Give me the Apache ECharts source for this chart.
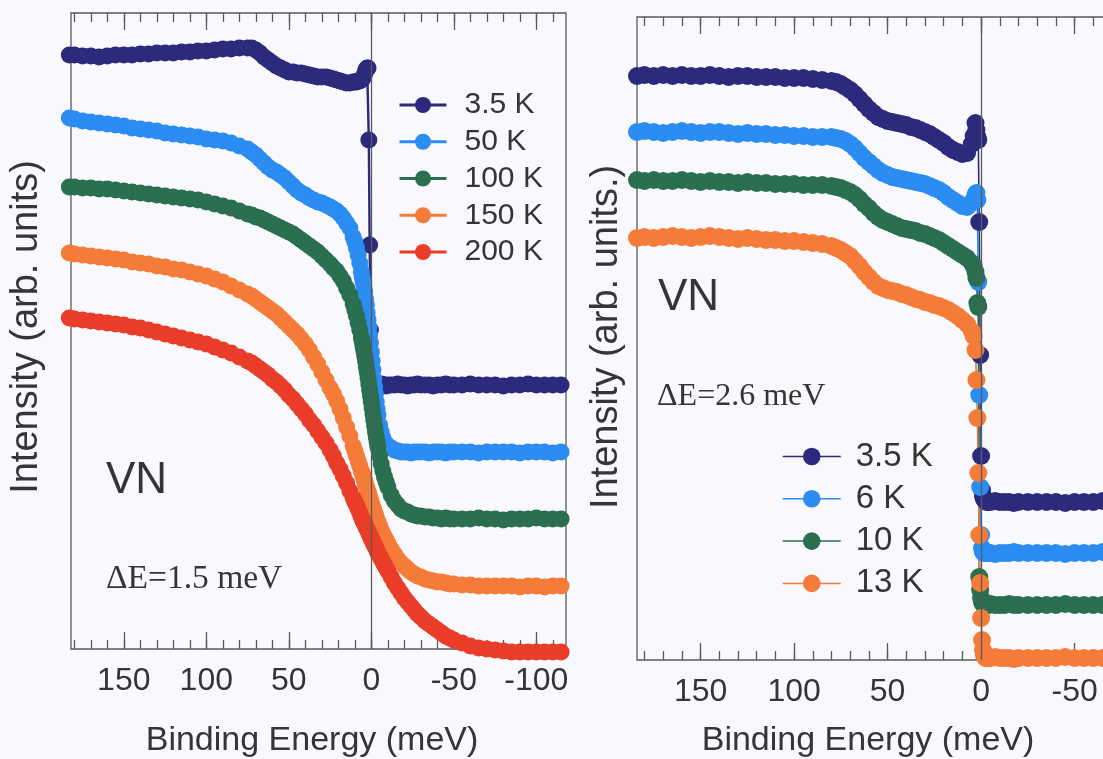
<!DOCTYPE html>
<html>
<head>
<meta charset="utf-8">
<script src="https://cdn.jsdelivr.net/npm/echarts@6/dist/echarts.min.js"></script>
<style>
  html, body { margin: 0; padding: 0; background: #f9f8fd; }
  #chart { width: 1103px; height: 759px; }
</style>
</head>
<body>
<div id="chart"></div>
<script>
// ---- Left panel: temperature dependence (3.5 K – 200 K), ΔE = 1.5 meV ----
const energyLeft = [183,180,175,170,165,160,155,150,145,140,135,130,125,120,115,110,105,100,95,90,85,80,75,
  72.5,70,67.5,65,62.5,60,57.5,55,52.5,50,47.5,45,42.5,40,37.5,35,32.5,30,27.5,25,
  23,21,19,17,15,13,11,
  10,9,8,7,
  6,5.5,5,4.5,4,3.5,3,2.5,2,1.5,1,0.5,0,-0.5,-1,-1.5,-2,-2.5,-3,-3.5,-4,
  -5,-6,-7,-8,-9,-10,
  -12,-14,-16,-18,-20,-22,-24,-26,-28,-30,
  -32.5,-35,-37.5,-40,-42.5,-45,-47.5,-50,
  -55,-60,-65,-70,-75,-80,-85,-90,-95,-100,-105,-110,-115];

const leftNames = ['3.5 K', '50 K', '100 K', '150 K', '200 K'];

const left3p5K = [5.94,5.94,5.93,5.93,5.92,5.93,5.94,5.94,5.94,5.95,5.95,5.96,5.96,5.96,5.97,5.97,5.98,5.98,5.99,6.00,6.00,6.01,6.01,
  6.01,5.99,5.96,5.92,5.89,5.86,5.83,5.81,5.79,5.77,5.77,5.76,5.76,5.75,5.74,5.73,5.72,5.72,5.72,5.71,
  5.70,5.69,5.68,5.67,5.66,5.66,5.67,
  5.67,5.67,5.68,5.68,
  5.69,5.70,5.71,5.73,5.75,5.78,5.80,5.81,5.81,5.09,4.04,3.19,2.80,2.68,2.65,2.64,2.64,2.65,2.64,2.64,2.64,
  2.64,2.65,2.64,2.64,2.63,2.64,
  2.64,2.64,2.65,2.64,2.64,2.63,2.64,2.64,2.65,2.64,
  2.64,2.64,2.63,2.64,2.64,2.65,2.64,2.64,
  2.64,2.65,2.64,2.64,2.64,2.63,2.64,2.64,2.65,2.64,2.64,2.64,2.64];

const left50K = [5.31,5.30,5.28,5.27,5.26,5.25,5.24,5.23,5.21,5.20,5.19,5.18,5.16,5.15,5.14,5.13,5.12,5.10,5.09,5.08,5.06,5.03,5.00,
  4.97,4.94,4.90,4.86,4.82,4.79,4.77,4.74,4.71,4.67,4.63,4.59,4.56,4.54,4.51,4.49,4.47,4.46,4.44,4.42,
  4.40,4.38,4.35,4.31,4.26,4.21,4.12,
  4.07,4.01,3.94,3.86,
  3.77,3.72,3.67,3.62,3.57,3.50,3.44,3.36,3.29,3.22,3.14,3.06,2.97,2.88,2.79,2.70,2.62,2.55,2.47,2.40,2.34,
  2.24,2.17,2.11,2.07,2.05,2.03,
  2.01,1.99,1.98,1.97,1.97,1.97,1.96,1.97,1.97,1.97,
  1.97,1.96,1.97,1.97,1.97,1.96,1.97,1.97,
  1.97,1.97,1.96,1.97,1.97,1.97,1.97,1.96,1.97,1.97,1.97,1.96,1.97];

const left100K = [4.62,4.62,4.61,4.61,4.60,4.60,4.59,4.58,4.57,4.56,4.55,4.54,4.53,4.52,4.51,4.50,4.49,4.47,4.45,4.43,4.41,4.38,4.35,
  4.34,4.32,4.31,4.29,4.27,4.25,4.23,4.21,4.19,4.17,4.15,4.12,4.09,4.06,4.03,4.00,3.97,3.93,3.89,3.85,
  3.81,3.78,3.73,3.68,3.61,3.54,3.45,
  3.39,3.33,3.26,3.19,
  3.11,3.07,3.02,2.98,2.93,2.88,2.82,2.77,2.71,2.65,2.59,2.53,2.47,2.41,2.35,2.29,2.23,2.17,2.12,2.07,2.02,
  1.93,1.85,1.78,1.72,1.67,1.62,
  1.54,1.48,1.44,1.40,1.38,1.37,1.35,1.34,1.33,1.33,
  1.32,1.32,1.31,1.31,1.30,1.31,1.30,1.30,
  1.30,1.30,1.31,1.30,1.30,1.29,1.30,1.30,1.30,1.31,1.30,1.30,1.30];

const left150K = [3.96,3.95,3.94,3.93,3.92,3.91,3.90,3.89,3.87,3.86,3.85,3.83,3.82,3.80,3.79,3.77,3.75,3.73,3.70,3.67,3.63,3.59,3.55,
  3.53,3.50,3.47,3.44,3.41,3.38,3.35,3.31,3.27,3.23,3.19,3.15,3.10,3.05,2.99,2.92,2.85,2.77,2.69,2.61,
  2.55,2.48,2.40,2.31,2.22,2.13,2.03,
  1.98,1.93,1.88,1.83,
  1.78,1.76,1.73,1.71,1.68,1.65,1.62,1.60,1.57,1.55,1.52,1.49,1.46,1.44,1.41,1.39,1.36,1.34,1.31,1.29,1.27,
  1.23,1.19,1.15,1.12,1.09,1.06,
  1.00,0.95,0.90,0.86,0.83,0.80,0.77,0.75,0.73,0.72,
  0.70,0.69,0.68,0.67,0.67,0.66,0.65,0.65,
  0.64,0.64,0.63,0.63,0.63,0.63,0.63,0.62,0.63,0.63,0.62,0.63,0.63];

const left200K = [3.31,3.30,3.29,3.28,3.27,3.26,3.25,3.24,3.22,3.21,3.19,3.17,3.15,3.13,3.11,3.09,3.07,3.05,3.02,2.99,2.96,2.92,2.88,
  2.86,2.83,2.80,2.77,2.74,2.70,2.67,2.63,2.59,2.54,2.50,2.45,2.40,2.35,2.29,2.24,2.18,2.12,2.06,1.99,
  1.93,1.86,1.80,1.73,1.66,1.58,1.51,
  1.47,1.44,1.40,1.36,
  1.32,1.30,1.28,1.27,1.25,1.23,1.21,1.20,1.18,1.16,1.14,1.12,1.10,1.09,1.07,1.05,1.03,1.02,1.00,0.98,0.96,
  0.93,0.90,0.87,0.84,0.81,0.78,
  0.72,0.66,0.61,0.56,0.51,0.47,0.43,0.39,0.35,0.32,
  0.28,0.25,0.22,0.19,0.16,0.13,0.11,0.09,
  0.06,0.03,0.01,0.00,-0.01,-0.02,-0.03,-0.03,-0.03,-0.03,-0.03,-0.03,-0.03];

// ---- Right panel: low temperatures (3.5 K – 13 K), ΔE = 2.6 meV ----
const energyRight = [184,180,175,170,165,160,155,150,145,140,135,130,125,120,115,110,105,100,95,90,85,80,
  77.5,75,72.5,70,67.5,65,62.5,60,57.5,55,52.5,50,47.5,45,42.5,40,37.5,35,32.5,30,27.5,25,22.5,20,17.5,15,12.5,10,7.5,5,
  4,3,2.5,2,1.5,1,0.5,0,-0.5,-1,-1.5,-2,-2.5,-3,
  -4,-5,-7.5,-10,-12.5,-15,-17.5,-20,-25,-30,
  -35,-40,-45,-50,-55,-60,-65,-70,-75,-80,-85,-90,-95,-100,-105,-110,-115,-120];

const rightNames = ['3.5 K', '6 K', '10 K', '13 K'];

const right3p5K = [5.84,5.85,5.84,5.85,5.84,5.85,5.84,5.84,5.85,5.84,5.83,5.84,5.84,5.83,5.83,5.83,5.82,5.82,5.82,5.81,5.80,5.79,
  5.78,5.76,5.73,5.70,5.66,5.61,5.56,5.51,5.47,5.43,5.41,5.39,5.38,5.37,5.36,5.35,5.33,5.32,5.30,5.28,5.26,5.23,5.20,5.17,5.13,5.10,5.08,5.06,5.07,5.16,
  5.24,5.37,5.30,5.23,5.20,4.38,3.05,2.04,1.70,1.64,1.61,1.60,1.59,1.58,
  1.58,1.58,1.59,1.58,1.58,1.58,1.57,1.58,1.58,1.58,
  1.58,1.58,1.57,1.58,1.58,1.58,1.59,1.58,1.58,1.58,1.57,1.58,1.58,1.58,1.58,1.58,1.58,1.58];

const right6K = [5.28,5.29,5.28,5.27,5.28,5.29,5.28,5.27,5.28,5.28,5.27,5.26,5.27,5.26,5.26,5.25,5.25,5.24,5.24,5.23,5.23,5.23,
  5.22,5.21,5.19,5.16,5.12,5.07,5.02,4.98,4.94,4.90,4.87,4.85,4.83,4.82,4.81,4.80,4.79,4.78,4.77,4.76,4.74,4.72,4.70,4.67,4.63,4.60,4.57,4.54,4.53,4.57,
  4.60,4.65,4.67,4.60,3.78,2.65,1.73,1.25,1.12,1.08,1.07,1.07,1.07,1.07,
  1.07,1.07,1.06,1.07,1.07,1.07,1.08,1.07,1.07,1.07,
  1.07,1.07,1.06,1.07,1.07,1.07,1.08,1.07,1.07,1.07,1.06,1.07,1.07,1.07,1.07,1.07,1.07,1.07];

const right10K = [4.80,4.79,4.80,4.79,4.79,4.80,4.79,4.78,4.79,4.78,4.78,4.77,4.78,4.77,4.77,4.76,4.76,4.76,4.75,4.75,4.75,4.74,
  4.73,4.72,4.70,4.68,4.65,4.61,4.56,4.52,4.47,4.43,4.40,4.38,4.36,4.34,4.32,4.31,4.30,4.29,4.27,4.26,4.24,4.22,4.20,4.17,4.14,4.11,4.08,4.05,4.02,3.97,
  3.94,3.88,3.82,3.57,3.53,0.83,0.70,0.62,0.58,0.56,0.55,0.55,0.55,0.55,
  0.55,0.56,0.55,0.55,0.55,0.56,0.55,0.55,0.55,0.55,
  0.55,0.55,0.56,0.55,0.55,0.55,0.55,0.56,0.55,0.55,0.55,0.55,0.56,0.55,0.55,0.55,0.55,0.55];

const right13K = [4.22,4.23,4.22,4.23,4.24,4.23,4.22,4.23,4.24,4.23,4.22,4.21,4.22,4.21,4.20,4.20,4.19,4.19,4.18,4.17,4.16,4.14,
  4.12,4.10,4.07,4.04,3.99,3.94,3.88,3.83,3.78,3.74,3.72,3.70,3.69,3.68,3.66,3.65,3.63,3.61,3.60,3.58,3.57,3.55,3.54,3.52,3.50,3.47,3.44,3.40,3.36,3.29,
  3.24,3.10,2.80,2.42,1.87,1.25,0.77,0.42,0.20,0.10,0.05,0.03,0.02,0.02,
  0.02,0.02,0.03,0.02,0.02,0.02,0.01,0.02,0.02,0.02,
  0.02,0.02,0.03,0.02,0.02,0.02,0.02,0.01,0.02,0.02,0.02,0.02,0.03,0.02,0.02,0.02,0.02,0.02];

// Tick positions on the energy axes (meV)
const majorTicks = [150, 100, 50, 0, -50, -100];
const minorTicks = [180,170,160,150,140,130,120,110,100,90,80,70,60,50,40,30,20,10,0,-10,-20,-30,-40,-50,-60,-70,-80,-90,-100,-110,-120];

const leftColors  = ['#2c2a7c', '#2b8cf2', '#2a6f4f', '#f57b38', '#ea3d29'];
const rightColors = ['#2c2a7c', '#2b8cf2', '#2a6f4f', '#f57b38'];

const SANS = '"Liberation Sans", Arial, sans-serif';
const SERIF = '"Liberation Serif", "Times New Roman", serif';
const FRAME = '#5a5a5a';
const TEXT = '#353535';

function pairs(xs, ys) { return xs.map((x, i) => [x, ys[i]]); }

// Four energy axes per panel: major/minor ticks at bottom and mirrored at top
function energyAxes(gridIndex, min, max) {
  const base = {
    type: 'value', gridIndex, min, max, inverse: true,
    splitLine: { show: false },
    axisLine: { show: false }
  };
  const tick = (len, values) => ({
    show: true, inside: true, length: len, customValues: values,
    lineStyle: { color: FRAME, width: 1.3 }
  });
  return [
    Object.assign({}, base, {
      position: 'bottom',
      axisTick: tick(17, majorTicks),
      axisLabel: { show: true, customValues: majorTicks, fontSize: 32, color: TEXT, fontFamily: SANS, margin: 16 }
    }),
    Object.assign({}, base, { position: 'bottom', axisTick: tick(9, minorTicks), axisLabel: { show: false } }),
    Object.assign({}, base, { position: 'top', axisTick: tick(17, majorTicks), axisLabel: { show: false } }),
    Object.assign({}, base, { position: 'top', axisTick: tick(9, minorTicks), axisLabel: { show: false } })
  ];
}

function curve(name, xs, ys, color, xAxisIndex, yAxisIndex, size, lineW, zeroLine) {
  const s = {
    type: 'line', name, xAxisIndex, yAxisIndex,
    data: pairs(xs, ys),
    symbol: 'circle', symbolSize: size, showSymbol: true, showAllSymbol: true,
    clip: false, animation: false,
    lineStyle: { color, width: lineW },
    itemStyle: { color },
    emphasis: { disabled: true }
  };
  if (zeroLine) {
    s.markLine = {
      silent: true, symbol: ['none', 'none'], label: { show: false },
      lineStyle: { color: FRAME, width: 1.3, type: 'solid' },
      data: [{ xAxis: 0 }], animation: false
    };
  }
  return s;
}

const leftData = [left3p5K, left50K, left100K, left150K, left200K];
const rightData = [right3p5K, right6K, right10K, right13K];

const series = [];
leftData.forEach((ys, i) => series.push(curve(leftNames[i], energyLeft, ys, leftColors[i], 0, 0, 17, 2.4, i === 0)));
rightData.forEach((ys, i) => series.push(curve(rightNames[i], energyRight, ys, rightColors[i], 4, 1, 18, 1.6, i === 0)));

function label(text, x, y, size, family, rotation, align) {
  const a = align || 'center';
  return {
    type: 'text', x, y, rotation: rotation || 0, silent: true,
    style: {
      text, fontSize: size, fontFamily: family, fill: TEXT,
      align: a, verticalAlign: 'middle',
      textAlign: a, textVerticalAlign: 'middle'
    }
  };
}

const chart = echarts.init(document.getElementById('chart'), null, { renderer: 'canvas' });
chart.setOption({
  backgroundColor: '#f9f8fd',
  animation: false,
  grid: [
    { left: 71, top: 13, width: 495, height: 636, outerBoundsMode: 'none', containLabel: false,
      show: true, borderColor: FRAME, borderWidth: 1.3, backgroundColor: 'transparent' },
    { left: 637, top: 17, width: 568.5, height: 643, outerBoundsMode: 'none', containLabel: false,
      show: true, borderColor: FRAME, borderWidth: 1.3, backgroundColor: 'transparent' }
  ],
  xAxis: energyAxes(0, -118, 182).concat(energyAxes(1, -120, 184)),
  yAxis: [
    { type: 'value', gridIndex: 0, min: 0, max: 6.36, show: false },
    { type: 'value', gridIndex: 1, min: 0, max: 6.43, show: false }
  ],
  legend: [
    {
      data: leftNames, orient: 'vertical', left: 398, top: 90, padding: 0,
      itemWidth: 47, itemHeight: 20, itemGap: 6.75,
      selectedMode: false,
      lineStyle: { width: 3 },
      textStyle: { fontSize: 30, color: TEXT, fontFamily: SANS, padding: [0, 0, 0, 13] }
    },
    {
      data: rightNames, orient: 'vertical', left: 782, top: 440, padding: 0,
      itemWidth: 58, itemHeight: 22, itemGap: 9.3,
      selectedMode: false,
      lineStyle: { width: 1.5 },
      textStyle: { fontSize: 33, color: TEXT, fontFamily: SANS, padding: [0, 0, 0, 10] }
    }
  ],
  graphic: [
    label('Intensity (arb. units)', 27, 327, 38, SANS, Math.PI / 2),
    label('Intensity (arb. units.)', 607, 337, 38, SANS, Math.PI / 2),
    label('Binding Energy (meV)', 312, 741, 34, SANS),
    label('Binding Energy (meV)', 868, 741, 34, SANS),
    label('VN', 106, 481, 44, SANS, 0, 'left'),
    label('VN', 658, 298, 44, SANS, 0, 'left'),
    label('\u0394E=1.5 meV', 106, 579, 33.5, SERIF, 0, 'left'),
    label('\u0394E=2.6 meV', 657, 397, 32, SERIF, 0, 'left')
  ],
  series
});
</script>
</body>
</html>
